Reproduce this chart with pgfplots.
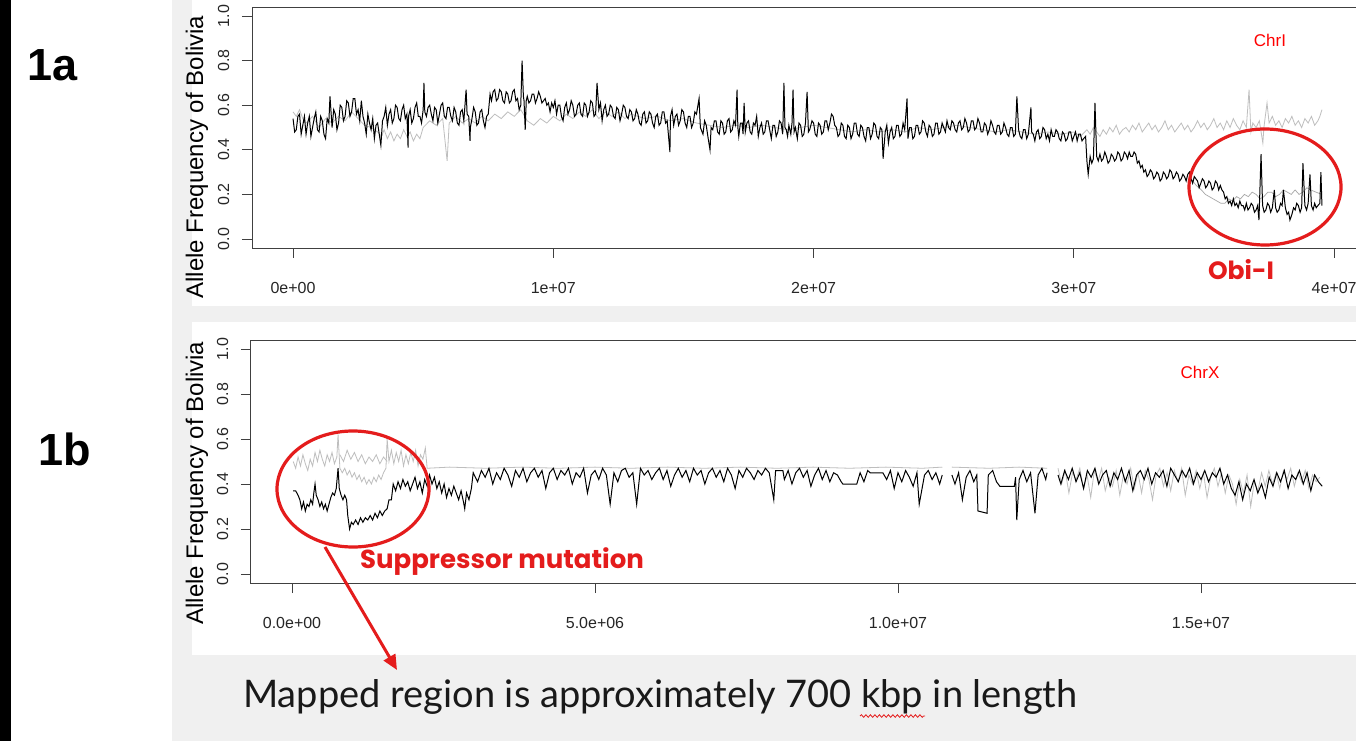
\documentclass[border=0pt]{standalone}
\usepackage{fontspec}
\setmainfont{Liberation Sans}
\newfontfamily\gill{Lato}
\newfontfamily\heavy{Poppins}
\usepackage{pgfplots}
\pgfplotsset{compat=1.18}
\usetikzlibrary{arrows.meta,decorations.pathmorphing}
\definecolor{rgray}{RGB}{190,190,190}
\definecolor{annot}{RGB}{228,28,28}
\definecolor{slide}{RGB}{240,240,240}

\pgfplotsset{rplot/.style={
  scale only axis, anchor=south west,
  axis line style={black!75,line width=0.8pt},
  tick style={black!75,line width=0.8pt},
  major tick length=10pt, tick align=outside,
  xtick pos=bottom, ytick pos=left,
  ymin=-0.04, ymax=1.04,
  ytick={0,0.2,0.4,0.6,0.8,1}, yticklabels={0.0,0.2,0.4,0.6,0.8,1.0},
  tick label style={font=\fontsize{16}{18}\selectfont, text=black!85},
  yticklabel style={rotate=90, anchor=south},
  xticklabel shift=21pt, yticklabel shift=9pt,
  unbounded coords=jump, clip=true}}

\begin{document}
\begin{tikzpicture}
\useasboundingbox (0pt,0pt) rectangle (1356pt,-741pt);
\clip (0pt,0pt) rectangle (1356pt,-741pt);

% slide background
\begin{scope}[x=1pt,y=-1pt]
  \fill[white] (0,0) rectangle (1356,741);
  \fill[black] (0,0) rectangle (11,741);
  \fill[slide] (172,0) rectangle (1356,741);
  \fill[white] (192,0) rectangle (1356,306);
  \fill[white] (192,322) rectangle (1356,655);
  \node[font=\bfseries\fontsize{45}{50}\selectfont] at (53,65) {1a};
  \node[font=\bfseries\fontsize{45}{50}\selectfont] at (65,449) {1b};
  \node[rotate=90, font=\fontsize{24}{28}\selectfont] at (197,157) {Allele Frequency of Bolivia};
  \node[rotate=90, font=\fontsize{24}{28}\selectfont] at (197,483) {Allele Frequency of Bolivia};
\end{scope}

% 1a: chromosome I
\begin{axis}[rplot, at={(251.9pt,-247.9pt)}, width=1110.4pt, height=240.8pt,
  xmin=-1.58, xmax=41.08,
  xtick={0,10,20,30,40}, xticklabels={0e+00,1e+07,2e+07,3e+07,4e+07}]
\addplot[rgray, line width=0.8pt] coordinates {
(0,0.57)(0.125,0.55)(0.25,0.58)(0.375,0.54)(0.5,0.52)(0.75,0.55)(1.0,0.50)(1.25,0.54)(1.5,0.52)(1.75,0.55)
(2.0,0.53)(2.25,0.57)(2.5,0.54)(2.75,0.51)(3.0,0.50)(3.25,0.48)(3.4,0.46)(3.5,0.49)(3.625,0.45)(3.75,0.48)
(3.875,0.44)(4.0,0.47)(4.125,0.45)(4.25,0.49)(4.375,0.46)(4.5,0.48)(4.625,0.44)(4.75,0.47)(4.875,0.45)
(5.0,0.50)(5.25,0.53)(5.5,0.51)(5.75,0.54)(5.92,0.35)(6.0,0.52)(6.25,0.55)(6.5,0.52)(6.75,0.54)(7.0,0.52)
(7.25,0.55)(7.5,0.53)(7.75,0.56)(8.0,0.54)(8.25,0.57)(8.5,0.55)(8.75,0.58)(9.0,0.53)(9.25,0.51)(9.5,0.54)
(9.75,0.52)(10.0,0.55)(10.25,0.53)(10.5,0.56)(10.75,0.54)(11.0,0.57)(11.25,0.55)(11.5,0.58)(11.75,0.54)
(12.0,0.57)(12.25,0.55)(12.5,0.57)(12.75,0.54)(13.0,0.56)(13.5,0.54)(14.0,0.55)(14.5,0.53)(15.0,0.54)
(15.5,0.52)(16.0,0.51)(16.5,0.50)(17.0,0.51)(17.5,0.50)(18.0,0.51)(18.5,0.50)(19.0,0.49)(19.5,0.50)
(20.0,0.51)(20.5,0.50)(21.0,0.49)(21.5,0.48)(22.0,0.49)(22.5,0.48)(23.0,0.49)(23.5,0.48)(24.0,0.50)
(24.5,0.49)(25.0,0.50)(25.5,0.51)(26.0,0.50)(26.5,0.49)(27.0,0.48)(27.5,0.49)(28.0,0.48)(28.5,0.47)
(29.0,0.48)(29.5,0.47)(30.0,0.48)(30.25,0.46)
(30.5,0.49)(30.625,0.47)(30.75,0.50)(30.875,0.48)(31.0,0.46)(31.125,0.49)(31.25,0.47)(31.375,0.50)
(31.5,0.48)(31.625,0.51)(31.75,0.47)(31.875,0.49)(32.0,0.50)(32.125,0.48)(32.25,0.51)(32.375,0.49)
(32.5,0.52)(32.625,0.48)(32.75,0.50)(32.875,0.52)(33.0,0.49)(33.125,0.51)(33.25,0.48)(33.375,0.50)
(33.5,0.53)(33.625,0.49)(33.75,0.51)(33.875,0.48)(34.0,0.50)(34.125,0.52)(34.25,0.49)(34.375,0.51)
(34.5,0.48)(34.625,0.50)(34.75,0.53)(34.875,0.50)(35.0,0.52)(35.125,0.49)(35.25,0.51)(35.375,0.54)
(35.5,0.50)(35.625,0.52)(35.75,0.49)(35.875,0.53)(36.0,0.50)(36.125,0.54)(36.25,0.51)(36.375,0.49)
(36.5,0.53)(36.625,0.50)(36.73,0.67)(36.8,0.48)(36.875,0.52)(37.0,0.50)(37.125,0.53)(37.26,0.43)
(37.3,0.50)(37.42,0.61)(37.5,0.52)(37.625,0.55)(37.75,0.51)(37.875,0.53)(38.0,0.50)(38.125,0.54)
(38.25,0.52)(38.375,0.55)(38.5,0.51)(38.625,0.53)(38.75,0.50)(38.875,0.54)(39.0,0.52)(39.125,0.55)
(39.25,0.51)(39.375,0.53)(39.45,0.55)(39.53,0.58)};
\addplot[gray!70, line width=0.7pt] coordinates {
(34.5,0.27)(34.7,0.24)(34.9,0.22)(35.05,0.20)(35.2,0.19)(35.35,0.18)(35.5,0.17)(35.65,0.16)(35.8,0.16)
(35.95,0.18)(36.1,0.17)(36.25,0.19)(36.4,0.18)(36.55,0.20)(36.7,0.19)(36.85,0.21)(37.0,0.20)(37.15,0.18)
(37.3,0.19)(37.45,0.21)(37.6,0.21)(37.75,0.19)(37.9,0.20)(38.05,0.22)(38.2,0.21)(38.35,0.20)(38.5,0.22)
(38.65,0.20)(38.8,0.21)(38.95,0.23)(39.1,0.22)(39.3,0.21)(39.53,0.20)};
\addplot[black, line width=1pt] coordinates {
(0,0.54)(0.0625,0.48)(0.125,0.49)(0.1875,0.55)(0.25,0.56)(0.3125,0.47)(0.375,0.51)(0.4375,0.55)
(0.5,0.47)(0.5625,0.52)(0.625,0.55)(0.6875,0.46)(0.75,0.50)(0.8125,0.54)(0.875,0.57)(0.9375,0.49)
(1,0.48)(1.0625,0.55)(1.125,0.53)(1.1875,0.47)(1.25,0.45)(1.3125,0.54)(1.375,0.52)(1.42,0.64)
(1.5,0.50)(1.5625,0.58)(1.625,0.56)(1.6875,0.49)(1.75,0.52)(1.8125,0.60)(1.875,0.59)(1.9375,0.53)
(2,0.55)(2.0625,0.62)(2.125,0.61)(2.1875,0.55)(2.25,0.57)(2.3125,0.63)(2.375,0.63)(2.4375,0.56)
(2.5,0.58)(2.5625,0.53)(2.625,0.62)(2.6875,0.55)(2.75,0.52)(2.8125,0.47)(2.875,0.56)(2.9375,0.52)
(3,0.49)(3.0625,0.54)(3.125,0.45)(3.1875,0.51)(3.25,0.52)(3.3125,0.47)(3.375,0.42)(3.4375,0.53)
(3.5,0.55)(3.5625,0.59)(3.625,0.51)(3.6875,0.56)(3.75,0.58)(3.8125,0.52)(3.875,0.54)(3.9375,0.60)
(4,0.59)(4.0625,0.54)(4.125,0.53)(4.1875,0.58)(4.25,0.60)(4.3125,0.54)(4.375,0.56)(4.42,0.41)(4.4375,0.55)
(4.5,0.58)(4.5625,0.52)(4.625,0.54)(4.6875,0.59)(4.75,0.61)(4.8125,0.55)(4.875,0.55)(4.9375,0.52)
(5,0.58)(5.03,0.70)(5.0625,0.57)(5.125,0.55)(5.1875,0.59)(5.25,0.60)(5.3125,0.56)(5.375,0.53)(5.4375,0.59)
(5.5,0.58)(5.5625,0.52)(5.625,0.56)(5.6875,0.60)(5.75,0.61)(5.8125,0.55)(5.875,0.54)(5.9375,0.59)
(6,0.59)(6.0625,0.55)(6.125,0.53)(6.1875,0.59)(6.25,0.57)(6.3125,0.52)(6.375,0.51)(6.4375,0.57)
(6.5,0.58)(6.5625,0.53)(6.65,0.67)(6.6875,0.56)(6.75,0.55)(6.8,0.44)(6.8125,0.50)(6.875,0.54)(6.9375,0.59)
(7,0.57)(7.0625,0.51)(7.125,0.52)(7.1875,0.57)(7.25,0.58)(7.3125,0.53)(7.375,0.50)(7.4375,0.55)
(7.5,0.56)(7.57,0.65)(7.625,0.62)(7.6875,0.66)(7.75,0.67)(7.8125,0.62)(7.875,0.63)(7.9375,0.67)
(8,0.66)(8.0625,0.62)(8.125,0.61)(8.1875,0.66)(8.25,0.65)(8.3125,0.61)(8.375,0.62)(8.4375,0.66)
(8.5,0.67)(8.5625,0.62)(8.625,0.63)(8.6875,0.58)(8.75,0.60)(8.8,0.80)(8.85,0.64)(8.875,0.62)(8.92,0.49)(8.96,0.62)
(9,0.64)(9.0625,0.61)(9.125,0.62)(9.1875,0.65)(9.25,0.65)(9.3125,0.61)(9.375,0.63)(9.4375,0.66)
(9.5,0.64)(9.5625,0.61)(9.625,0.62)(9.6875,0.63)(9.75,0.60)(9.8125,0.61)(9.875,0.57)(9.9375,0.61)
(10,0.59)(10.0625,0.62)(10.125,0.56)(10.1875,0.60)(10.25,0.60)(10.3125,0.55)(10.375,0.53)(10.4375,0.59)
(10.5,0.61)(10.5625,0.56)(10.625,0.58)(10.6875,0.62)(10.75,0.60)(10.8125,0.55)(10.875,0.56)(10.9375,0.60)
(11,0.61)(11.0625,0.56)(11.125,0.55)(11.1875,0.61)(11.25,0.60)(11.3125,0.55)(11.375,0.57)(11.4375,0.62)
(11.5,0.61)(11.5625,0.55)(11.625,0.56)(11.68,0.70)(11.75,0.58)(11.8125,0.61)(11.875,0.53)(11.9375,0.58)
(12,0.60)(12.0625,0.55)(12.125,0.56)(12.1875,0.60)(12.25,0.59)(12.3125,0.55)(12.375,0.54)(12.4375,0.59)
(12.5,0.58)(12.5625,0.53)(12.625,0.56)(12.6875,0.60)(12.75,0.59)(12.8125,0.55)(12.875,0.54)(12.9375,0.58)
(13,0.57)(13.0625,0.53)(13.125,0.54)(13.1875,0.58)(13.25,0.56)(13.3125,0.52)(13.375,0.51)(13.4375,0.56)
(13.5,0.57)(13.5625,0.52)(13.625,0.53)(13.6875,0.57)(13.75,0.56)(13.8125,0.52)(13.875,0.50)(13.9375,0.55)
(14,0.56)(14.0625,0.51)(14.125,0.52)(14.1875,0.57)(14.25,0.57)(14.3125,0.52)(14.375,0.53)(14.48,0.39)
(14.5,0.55)(14.5625,0.58)(14.625,0.51)(14.6875,0.55)(14.75,0.56)(14.8125,0.51)(14.875,0.53)(14.9375,0.58)
(15,0.57)(15.0625,0.52)(15.125,0.50)(15.1875,0.55)(15.25,0.55)(15.3125,0.50)(15.375,0.52)(15.4375,0.57)
(15.5,0.56)(15.6,0.63)(15.65,0.50)(15.75,0.47)(15.8125,0.53)(15.875,0.51)(15.9375,0.46)
(16.02,0.40)(16.0625,0.50)(16.125,0.49)(16.1875,0.53)(16.25,0.53)(16.3125,0.48)(16.375,0.47)(16.4375,0.53)
(16.5,0.52)(16.5625,0.47)(16.625,0.48)(16.6875,0.53)(16.75,0.54)(16.8125,0.48)(16.875,0.49)(16.9375,0.53)
(17,0.51)(17.06,0.67)(17.09,0.50)(17.125,0.46)(17.1875,0.52)(17.25,0.52)(17.29,0.47)(17.33,0.61)(17.375,0.48)
(17.4375,0.52)(17.5,0.53)(17.5625,0.48)(17.625,0.47)(17.6875,0.52)(17.75,0.51)(17.8125,0.55)(17.875,0.46)(17.9375,0.50)
(18,0.52)(18.0625,0.47)(18.125,0.48)(18.1875,0.53)(18.25,0.53)(18.3125,0.49)(18.375,0.45)(18.4375,0.51)
(18.5,0.51)(18.5625,0.46)(18.625,0.48)(18.6875,0.53)(18.75,0.52)(18.8125,0.47)(18.86,0.70)(18.9,0.50)(18.95,0.49)
(19.0,0.46)(19.05,0.51)(19.125,0.47)(19.17,0.52)(19.21,0.67)(19.25,0.48)(19.3,0.50)(19.375,0.45)(19.4375,0.52)
(19.5,0.51)(19.5625,0.46)(19.625,0.47)(19.6875,0.52)(19.75,0.66)(19.8,0.48)(19.85,0.49)(19.9375,0.53)
(20,0.52)(20.0625,0.47)(20.125,0.46)(20.1875,0.52)(20.25,0.51)(20.3125,0.47)(20.375,0.48)(20.4375,0.53)
(20.5,0.53)(20.5625,0.49)(20.625,0.52)(20.6875,0.56)(20.75,0.55)(20.8125,0.51)(20.875,0.50)(20.9375,0.46)
(21,0.47)(21.0625,0.52)(21.125,0.51)(21.1875,0.46)(21.25,0.45)(21.3125,0.51)(21.375,0.50)(21.4375,0.45)
(21.5,0.47)(21.5625,0.52)(21.625,0.52)(21.6875,0.47)(21.75,0.46)(21.8125,0.51)(21.875,0.50)(21.9375,0.46)
(22,0.44)(22.0625,0.50)(22.125,0.50)(22.1875,0.45)(22.25,0.47)(22.3125,0.52)(22.375,0.51)(22.4375,0.46)
(22.5,0.45)(22.5625,0.50)(22.625,0.49)(22.67,0.36)(22.75,0.48)(22.8125,0.51)(22.875,0.43)(22.9375,0.48)
(23,0.50)(23.0625,0.45)(23.125,0.46)(23.1875,0.51)(23.25,0.51)(23.3125,0.46)(23.375,0.47)(23.4375,0.52)
(23.5,0.49)(23.59,0.63)(23.625,0.45)(23.6875,0.50)(23.75,0.50)(23.8125,0.45)(23.875,0.46)(23.9375,0.51)
(24,0.51)(24.0625,0.47)(24.125,0.48)(24.1875,0.53)(24.25,0.52)(24.3125,0.48)(24.375,0.46)(24.4375,0.51)
(24.5,0.50)(24.5625,0.46)(24.625,0.47)(24.6875,0.52)(24.75,0.52)(24.8125,0.47)(24.875,0.48)(24.9375,0.52)
(25,0.50)(25.0625,0.48)(25.125,0.53)(25.1875,0.50)(25.25,0.49)(25.3125,0.53)(25.375,0.52)(25.4375,0.49)
(25.5,0.48)(25.5625,0.52)(25.625,0.53)(25.6875,0.49)(25.75,0.50)(25.8125,0.54)(25.875,0.52)(25.9375,0.48)
(26,0.49)(26.0625,0.53)(26.125,0.53)(26.1875,0.49)(26.25,0.50)(26.3125,0.54)(26.375,0.52)(26.4375,0.48)
(26.5,0.48)(26.5625,0.52)(26.625,0.51)(26.6875,0.47)(26.75,0.49)(26.8125,0.53)(26.875,0.51)(26.9375,0.48)
(27,0.47)(27.0625,0.51)(27.125,0.51)(27.1875,0.47)(27.25,0.48)(27.3125,0.52)(27.375,0.50)(27.4375,0.47)
(27.5,0.46)(27.5625,0.50)(27.625,0.50)(27.6875,0.46)(27.75,0.47)(27.81,0.64)(27.875,0.49)(27.9375,0.46)
(28,0.45)(28.0625,0.49)(28.125,0.49)(28.1875,0.45)(28.25,0.47)(28.35,0.59)(28.375,0.48)(28.4375,0.47)
(28.5,0.44)(28.5625,0.48)(28.625,0.49)(28.6875,0.45)(28.75,0.46)(28.8125,0.50)(28.875,0.49)(28.9375,0.45)
(29,0.47)(29.0625,0.44)(29.125,0.49)(29.1875,0.46)(29.25,0.46)(29.3125,0.49)(29.375,0.48)(29.4375,0.45)
(29.5,0.44)(29.5625,0.48)(29.625,0.47)(29.6875,0.44)(29.75,0.45)(29.8125,0.48)(29.875,0.48)(29.9375,0.44)
(30,0.46)(30.0625,0.48)(30.125,0.44)(30.1875,0.47)(30.25,0.47)(30.3125,0.44)(30.375,0.45)(30.45,0.46)
(30.5,0.35)(30.55,0.29)(30.625,0.37)(30.6875,0.34)(30.75,0.36)(30.81,0.61)(30.875,0.37)(30.9375,0.35)
(31,0.38)(31.0625,0.35)(31.125,0.36)(31.1875,0.39)(31.25,0.37)(31.3125,0.34)(31.375,0.35)(31.4375,0.38)
(31.5,0.37)(31.5625,0.35)(31.625,0.36)(31.6875,0.39)(31.75,0.38)(31.8125,0.35)(31.875,0.36)(31.9375,0.39)
(32,0.38)(32.0625,0.36)(32.125,0.39)(32.1875,0.37)(32.25,0.37)(32.3125,0.39)(32.375,0.38)(32.4375,0.34)
(32.5,0.35)(32.5625,0.32)(32.625,0.33)(32.6875,0.30)(32.75,0.31)(32.8125,0.28)(32.875,0.29)(32.9375,0.31)
(33,0.30)(33.0625,0.27)(33.125,0.28)(33.1875,0.30)(33.25,0.29)(33.3125,0.26)(33.375,0.27)(33.4375,0.30)
(33.5,0.29)(33.5625,0.27)(33.625,0.28)(33.6875,0.31)(33.75,0.30)(33.8125,0.27)(33.875,0.28)(33.9375,0.30)
(34,0.29)(34.0625,0.26)(34.125,0.27)(34.1875,0.29)(34.25,0.28)(34.3125,0.26)(34.375,0.29)(34.4375,0.30)
(34.5,0.27)(34.5625,0.25)(34.625,0.28)(34.6875,0.27)(34.75,0.26)(34.8125,0.23)(34.875,0.25)(34.9375,0.27)
(35,0.26)(35.0625,0.23)(35.125,0.24)(35.1875,0.26)(35.25,0.25)(35.3125,0.22)(35.375,0.23)(35.4375,0.26)
(35.5,0.25)(35.5625,0.22)(35.625,0.24)(35.6875,0.22)(35.75,0.21)(35.8125,0.18)(35.875,0.19)(35.9375,0.16)
(36,0.17)(36.0625,0.15)(36.125,0.18)(36.1875,0.15)(36.25,0.16)(36.3125,0.14)(36.375,0.17)(36.4375,0.15)
(36.5,0.15)(36.5625,0.13)(36.625,0.16)(36.6875,0.13)(36.75,0.14)(36.8125,0.16)(36.875,0.15)(36.9375,0.12)
(37,0.13)(37.06,0.15)(37.11,0.085)(37.19,0.38)(37.25,0.15)(37.31,0.12)(37.375,0.13)(37.44,0.16)
(37.5,0.15)(37.56,0.12)(37.625,0.14)(37.7,0.22)(37.75,0.14)(37.81,0.12)(37.875,0.13)(37.94,0.16)
(38,0.15)(38.05,0.22)(38.125,0.14)(38.19,0.11)(38.25,0.12)(38.3,0.085)(38.375,0.11)(38.44,0.14)
(38.5,0.13)(38.56,0.16)(38.625,0.15)(38.69,0.12)(38.75,0.14)(38.8,0.34)(38.875,0.15)(38.94,0.13)
(39,0.16)(39.07,0.29)(39.125,0.15)(39.19,0.13)(39.25,0.16)(39.31,0.14)(39.375,0.15)(39.45,0.16)(39.49,0.30)(39.53,0.15)};
\end{axis}

% 1b: chromosome X
\begin{axis}[rplot, at={(250.8pt,-583pt)}, width=1112.6pt, height=243pt,
  xmin=-0.68, xmax=17.68,
  xtick={0,5,10,15}, xticklabels={0.0e+00,5.0e+06,1.0e+07,1.5e+07}]
\addplot[rgray, line width=0.8pt] coordinates {
(0.02,0.50)(0.06,0.47)(0.10,0.52)(0.14,0.48)(0.18,0.53)(0.22,0.49)(0.26,0.46)(0.30,0.51)(0.34,0.48)
(0.38,0.54)(0.42,0.50)(0.46,0.55)(0.50,0.51)(0.54,0.48)(0.58,0.53)(0.62,0.50)(0.66,0.54)(0.70,0.49)
(0.74,0.52)(0.76,0.62)(0.79,0.47)(0.83,0.45)(0.87,0.47)(0.91,0.44)(0.95,0.46)(0.99,0.43)(1.03,0.45)
(1.07,0.42)(1.11,0.44)(1.15,0.41)(1.19,0.43)(1.23,0.40)(1.27,0.42)(1.31,0.40)(1.35,0.43)(1.39,0.41)
(1.43,0.44)(1.47,0.42)(1.51,0.45)(1.55,0.47)(1.57,0.60)(1.60,0.50)(1.64,0.55)(1.68,0.49)(1.72,0.54)
(1.76,0.50)(1.80,0.55)(1.84,0.48)(1.88,0.53)(1.92,0.49)(1.96,0.54)(2.00,0.50)(2.04,0.55)(2.08,0.48)
(2.12,0.53)(2.16,0.51)(2.20,0.56)(2.23,0.47)(2.6,0.475)(3.2,0.47)(3.8,0.475)(4.4,0.47)(5,0.475)
(5.6,0.47)(6.2,0.475)(6.8,0.47)(7.4,0.475)(8,0.47)(8.6,0.475)(9.2,0.47)(9.8,0.475)(10.4,0.47)
(10.73,0.475)(10.8,nan)(10.89,0.475)(11.5,0.47)(12.0,0.475)(12.46,0.47)(12.55,nan)
(12.64,0.47)(12.70,0.40)(12.76,0.46)(12.82,0.36)(12.88,0.45)(12.94,0.42)(13.0,0.47)(13.06,0.38)
(13.12,0.44)(13.18,0.34)(13.24,0.46)(13.30,0.41)(13.36,0.47)(13.42,0.37)(13.48,0.43)(13.54,0.39)
(13.60,0.46)(13.66,0.35)(13.72,0.44)(13.78,0.40)(13.84,0.47)(13.90,0.38)(13.96,0.45)(14.02,0.36)
(14.08,0.46)(14.14,0.42)(14.20,0.33)(14.26,0.44)(14.32,0.47)(14.38,0.39)(14.44,0.45)(14.50,0.37)
(14.56,0.46)(14.62,0.41)(14.68,0.47)(14.74,0.35)(14.80,0.44)(14.86,0.40)(14.92,0.46)(14.98,0.38)
(15.04,0.45)(15.10,0.34)(15.16,0.43)(15.22,0.47)(15.28,0.39)(15.34,0.45)(15.40,0.36)(15.46,0.44)
(15.52,0.40)(15.58,0.31)(15.64,0.42)(15.70,0.36)(15.76,0.44)(15.82,0.30)(15.88,0.41)(15.94,0.37)
(16.0,0.45)(16.06,0.39)(16.12,0.46)(16.18,0.40)(16.24,0.45)(16.30,0.38)(16.36,0.46)(16.42,0.42)
(16.48,0.47)(16.54,0.39)(16.60,0.45)(16.66,0.41)(16.72,0.46)(16.78,0.38)(16.84,0.44)(16.90,0.41)(16.96,0.43)};
\addplot[rgray, line width=0.8pt] coordinates {
(0.79,0.53)(0.85,0.50)(0.91,0.55)(0.97,0.51)(1.03,0.54)(1.09,0.50)(1.15,0.53)(1.21,0.49)(1.27,0.52)
(1.33,0.50)(1.39,0.53)(1.45,0.49)(1.51,0.52)(1.57,0.50)};
\addplot[black, line width=1pt] coordinates {
(0.02,0.37)(0.06,0.37)(0.10,0.35)(0.13,0.33)(0.16,0.29)(0.19,0.32)(0.22,0.28)(0.25,0.31)(0.28,0.30)
(0.31,0.33)(0.34,0.31)(0.36,0.36)(0.38,0.40)(0.40,0.35)(0.43,0.33)(0.46,0.30)(0.49,0.32)(0.52,0.29)
(0.55,0.31)(0.58,0.28)(0.61,0.31)(0.64,0.34)(0.67,0.36)(0.70,0.35)(0.73,0.38)(0.76,0.47)(0.78,0.38)
(0.81,0.35)(0.84,0.33)(0.87,0.35)(0.90,0.33)(0.92,0.26)(0.95,0.20)(0.98,0.23)(1.01,0.22)(1.05,0.24)
(1.09,0.22)(1.13,0.25)(1.17,0.23)(1.21,0.25)(1.25,0.24)(1.29,0.26)(1.33,0.24)(1.37,0.27)(1.41,0.25)
(1.45,0.28)(1.49,0.26)(1.53,0.28)(1.57,0.29)(1.60,0.33)(1.64,0.33)(1.67,0.40)(1.71,0.37)(1.75,0.41)
(1.79,0.38)(1.83,0.42)(1.87,0.39)(1.91,0.41)(1.95,0.37)(1.99,0.40)(2.03,0.43)(2.07,0.38)(2.11,0.41)
(2.15,0.36)(2.19,0.42)(2.23,0.39)(2.27,0.44)(2.31,0.40)(2.35,0.43)(2.39,0.38)(2.43,0.41)(2.47,0.36)
(2.51,0.40)(2.55,0.34)(2.59,0.38)(2.63,0.35)(2.67,0.39)(2.71,0.36)(2.75,0.33)(2.79,0.37)(2.83,0.32)
(2.85,0.29)(2.88,0.36)(2.92,0.33)(2.96,0.38)(2.99,0.45)
(3.0625,0.41)(3.125,0.46)(3.1875,0.43)(3.25,0.47)(3.3125,0.40)(3.375,0.45)(3.4375,0.42)(3.5,0.47)
(3.5625,0.44)(3.625,0.39)(3.6875,0.46)(3.75,0.43)(3.8125,0.47)(3.875,0.41)(3.9375,0.45)
(4,0.47)(4.0625,0.43)(4.125,0.46)(4.1875,0.38)(4.25,0.45)(4.3125,0.47)(4.375,0.42)(4.4375,0.46)
(4.5,0.44)(4.5625,0.47)(4.625,0.40)(4.6875,0.45)(4.75,0.43)(4.8125,0.47)(4.875,0.36)(4.9375,0.44)
(5,0.46)(5.0625,0.42)(5.125,0.47)(5.1875,0.44)(5.25,0.31)(5.3125,0.45)(5.375,0.41)(5.4375,0.46)
(5.5,0.47)(5.5625,0.43)(5.625,0.45)(5.6875,0.31)(5.75,0.47)(5.8125,0.44)(5.875,0.46)(5.9375,0.42)
(6,0.45)(6.0625,0.47)(6.125,0.42)(6.1875,0.46)(6.25,0.39)(6.3125,0.44)(6.375,0.47)(6.4375,0.43)
(6.5,0.46)(6.5625,0.41)(6.625,0.47)(6.6875,0.44)(6.75,0.46)(6.8125,0.40)(6.875,0.45)(6.9375,0.47)
(7,0.43)(7.0625,0.46)(7.125,0.41)(7.1875,0.47)(7.25,0.44)(7.3125,0.38)(7.375,0.46)(7.4375,0.43)
(7.5,0.47)(7.5625,0.45)(7.625,0.42)(7.6875,0.46)(7.75,0.44)(7.8125,0.47)(7.875,0.45)(7.95,0.33)
(7.98,0.46)(8.10,0.46)
(8.125,0.42)(8.1875,0.46)(8.25,0.40)(8.3125,0.45)(8.375,0.47)(8.4375,0.43)(8.5,0.46)(8.5625,0.39)
(8.625,0.44)(8.6875,0.47)(8.75,0.42)(8.8125,0.46)(8.875,0.41)(8.9375,0.45)
(9,0.44)(9.0625,0.41)(9.09,0.40)(9.32,0.40)(9.375,0.45)(9.4375,0.41)(9.5,0.46)(9.54,0.45)(9.75,0.45)
(9.8125,0.42)(9.875,0.46)(9.9375,0.38)
(10,0.45)(10.0625,0.41)(10.125,0.46)(10.1875,0.43)(10.25,0.39)(10.3125,0.45)(10.35,0.31)(10.4375,0.44)
(10.5,0.46)(10.5625,0.42)(10.625,0.45)(10.6875,0.40)(10.73,0.44)(10.8,nan)
(10.89,0.44)(10.94,0.40)(11,0.45)(11.0625,0.33)(11.125,0.43)(11.1875,0.46)(11.25,0.41)(11.30,0.44)
(11.32,0.28)(11.47,0.27)(11.49,0.44)(11.5625,0.46)(11.625,0.41)(11.68,0.39)(11.92,0.39)(11.94,0.43)
(11.96,0.24)(12,0.42)(12.0625,0.46)(12.125,0.41)(12.1875,0.45)(12.26,0.27)(12.3125,0.44)(12.375,0.47)
(12.4375,0.42)(12.46,0.45)(12.55,nan)
(12.64,0.44)(12.6875,0.40)(12.75,0.46)(12.8125,0.42)(12.875,0.47)(12.9375,0.41)
(13,0.45)(13.0625,0.38)(13.125,0.46)(13.1875,0.43)(13.25,0.47)(13.3125,0.40)(13.375,0.44)(13.4375,0.46)
(13.5,0.39)(13.5625,0.45)(13.625,0.42)(13.6875,0.47)(13.75,0.41)(13.8125,0.46)(13.875,0.37)(13.9375,0.44)
(14,0.46)(14.0625,0.42)(14.125,0.47)(14.1875,0.40)(14.25,0.45)(14.3125,0.43)(14.375,0.46)(14.4375,0.39)
(14.5,0.47)(14.5625,0.44)(14.625,0.41)(14.6875,0.46)(14.75,0.43)(14.8125,0.47)(14.875,0.40)(14.9375,0.45)
(15,0.42)(15.0625,0.46)(15.125,0.41)(15.1875,0.45)(15.25,0.43)(15.3125,0.47)(15.375,0.40)(15.4375,0.44)
(15.5,0.38)(15.5625,0.35)(15.625,0.41)(15.6875,0.33)(15.75,0.40)(15.8125,0.37)(15.875,0.42)(15.9375,0.36)
(16,0.40)(16.0625,0.34)(16.125,0.43)(16.1875,0.39)(16.25,0.45)(16.3125,0.41)(16.375,0.46)(16.4375,0.38)
(16.5,0.44)(16.5625,0.42)(16.625,0.46)(16.6875,0.40)(16.75,0.45)(16.8125,0.37)(16.875,0.44)(16.9375,0.41)(17,0.39)};
\end{axis}

% annotations
\begin{scope}[x=1pt,y=-1pt]
  \node[text=red, font=\fontsize{17}{20}\selectfont] at (1270,40) {ChrI};
  \node[text=red, font=\fontsize{17}{20}\selectfont] at (1200,372) {ChrX};
  \draw[annot, line width=3.2pt] (1265,187) ellipse [x radius=76, y radius=58];
  \draw[annot, line width=3.2pt] (353,489) ellipse [x radius=76, y radius=58];
  \node[text=annot, font=\heavy\bfseries\fontsize{25}{28}\selectfont] at (1241,270) {Obi-I};
  \node[text=annot, font=\heavy\bfseries\fontsize{26}{29}\selectfont] at (502,562) {Suppressor mutation};
  \draw[annot, line width=3pt, -{Triangle[length=15pt,width=13pt]}] (325,547) -- (397,670);
  \node[anchor=base west, inner sep=0pt, text=black!90, font=\gill\fontsize{38}{44}\selectfont] at (243,707)
    {Mapped region is approximately 700 kbp in length};
  \draw[annot, line width=0.8pt, decorate, decoration={snake, amplitude=1.3pt, segment length=4.5pt}]
    (860,716) -- (925,716);
\end{scope}
\end{tikzpicture}
\end{document}
